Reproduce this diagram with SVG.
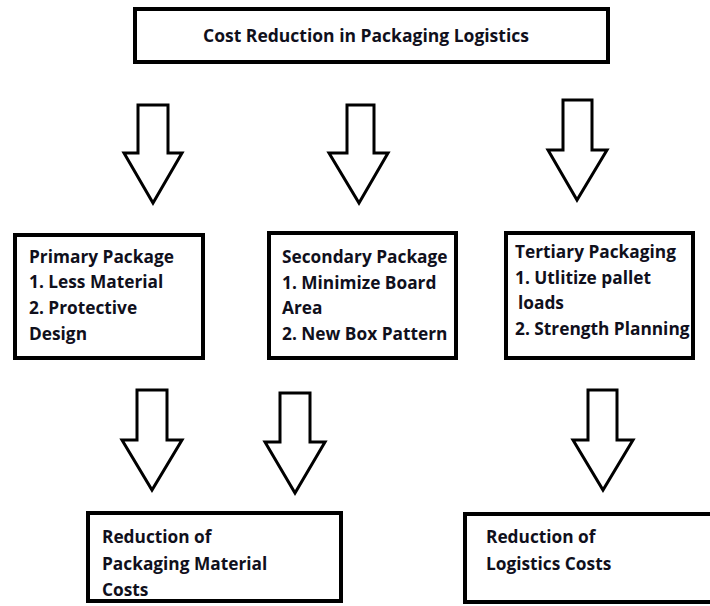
<svg xmlns="http://www.w3.org/2000/svg" width="710" height="606" viewBox="0 0 710 606">
<style>
.box{fill:#fff;stroke:#000;stroke-width:4}
.arr{fill:#fff;stroke:#000;stroke-width:3;stroke-linejoin:miter}
text{font-family:"Open Sans",Lato,"Liberation Sans",sans-serif;font-weight:bold;fill:#10101c;font-size:17.3px}
.title{font-size:17.5px}
</style>
<rect width="710" height="606" fill="#fff"/>
<g id="title">
<rect class="box" x="135" y="9" width="473" height="53"/>
<text class="title" x="366" y="42" text-anchor="middle">Cost Reduction in Packaging Logistics</text>
</g>
<g id="primary">
<rect class="box" x="15" y="235" width="188" height="123"/>
<text x="29" y="263">Primary Package</text>
<text x="29" y="288">1. Less Material</text>
<text x="29" y="314">2. Protective</text>
<text x="29" y="340">Design</text>
</g>
<g id="secondary">
<rect class="box" x="269" y="233" width="187" height="125"/>
<text x="282" y="263">Secondary Package</text>
<text x="282" y="289">1. Minimize Board</text>
<text x="282" y="314">Area</text>
<text x="282" y="340">2. New Box Pattern</text>
</g>
<g id="tertiary">
<rect class="box" x="506" y="233" width="187" height="125"/>
<text x="515" y="258">Tertiary Packaging</text>
<text x="515" y="284">1. Utlitize pallet</text>
<text x="518" y="309">loads</text>
<text x="515" y="335">2. Strength Planning</text>
</g>
<g id="material">
<rect class="box" x="88" y="513" width="253" height="88"/>
<text x="102" y="543">Reduction of</text>
<text x="102" y="570">Packaging Material</text>
<text x="102" y="596">Costs</text>
</g>
<g id="logistics">
<rect class="box" x="465" y="514" width="260" height="88"/>
<text x="486" y="543">Reduction of</text>
<text x="486" y="570">Logistics Costs</text>
</g>
<g id="connectors">
<polygon class="arr" points="138,105 168,105 168,153 182,153 153,203 124,153 138,153"/>
<polygon class="arr" points="347,105 374,105 374,153 388,153 359,203 329,153 347,153"/>
<polygon class="arr" points="563,100 592,100 592,150 607,150 577,200 548,150 563,150"/>
<polygon class="arr" points="137,390 167,390 167,440 182,440 152,490 122,440 137,440"/>
<polygon class="arr" points="280,393 310,393 310,442 325,442 295,493 265,442 280,442"/>
<polygon class="arr" points="588,390 617,390 617,440 633,440 603,490 573,440 588,440"/>
</g>
</svg>
